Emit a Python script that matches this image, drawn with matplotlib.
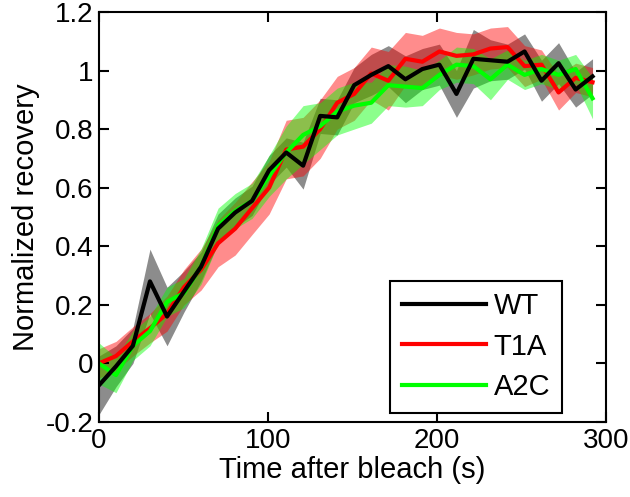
import matplotlib
matplotlib.use("Agg")
import matplotlib.pyplot as plt

plt.rcParams['font.family'] = ['Liberation Sans', 'DejaVu Sans']

# time after bleach (s)
times = [0, 10.1, 20.1, 30.2, 40.3, 50.3, 60.4, 70.5, 80.6, 90.6,
         100.7, 110.8, 120.8, 130.9, 141.0, 151.0, 161.1, 171.2, 181.3, 191.3,
         201.4, 211.5, 221.5, 231.6, 241.7, 251.8, 261.8, 271.9, 282.0, 292.0]

wt_mean = [-0.075, -0.01, 0.06, 0.28, 0.16, 0.245, 0.33, 0.46, 0.515, 0.555,
           0.66, 0.72, 0.675, 0.845, 0.84, 0.95, 0.985, 1.015, 0.97, 1.005,
           1.02, 0.92, 1.04, 1.035, 1.03, 1.065, 0.965, 1.025, 0.935, 0.98]
wt_err = [0.10, 0.07, 0.06, 0.11, 0.10, 0.07, 0.05, 0.05, 0.05, 0.05,
          0.05, 0.05, 0.08, 0.06, 0.06, 0.06, 0.07, 0.07, 0.08, 0.07,
          0.07, 0.08, 0.10, 0.07, 0.06, 0.06, 0.07, 0.07, 0.06, 0.06]

t1a_mean = [0.0, 0.025, 0.075, 0.12, 0.17, 0.26, 0.32, 0.41, 0.46, 0.53,
            0.60, 0.73, 0.74, 0.80, 0.89, 0.92, 0.99, 0.965, 1.04, 1.03,
            1.065, 1.05, 1.055, 1.075, 1.08, 1.015, 1.02, 0.925, 0.975, 0.96]
t1a_err = [0.05, 0.05, 0.05, 0.05, 0.06, 0.06, 0.07, 0.08, 0.09, 0.09,
           0.09, 0.10, 0.10, 0.10, 0.09, 0.09, 0.09, 0.10, 0.09, 0.09,
           0.08, 0.08, 0.07, 0.07, 0.07, 0.07, 0.05, 0.06, 0.05, 0.05]

a2c_mean = [0.0, -0.04, 0.06, 0.11, 0.21, 0.24, 0.33, 0.47, 0.52, 0.555,
            0.64, 0.72, 0.78, 0.81, 0.86, 0.88, 0.89, 0.95, 0.945, 0.94,
            0.985, 1.02, 1.015, 0.97, 1.02, 0.985, 1.005, 0.985, 1.005, 0.905]
a2c_err = [0.07, 0.06, 0.05, 0.05, 0.05, 0.05, 0.06, 0.06, 0.06, 0.06,
           0.07, 0.09, 0.10, 0.08, 0.08, 0.08, 0.07, 0.07, 0.07, 0.06,
           0.05, 0.06, 0.06, 0.07, 0.05, 0.05, 0.05, 0.05, 0.05, 0.07]

series = [("WT", wt_mean, wt_err, "#000000"),
          ("T1A", t1a_mean, t1a_err, "#ff0000"),
          ("A2C", a2c_mean, a2c_err, "#00ff00")]

fig = plt.figure(figsize=(6.3, 4.97), dpi=100)
ax = fig.add_axes([0.157, 0.151, 0.805, 0.825])

# shaded bands first
for name, m, e, c in series:
    lo = [a - b for a, b in zip(m, e)]
    hi = [a + b for a, b in zip(m, e)]
    ax.fill_between(times, lo, hi, color=c, alpha=0.45, linewidth=0)

handles = {}
for name, m, e, c in [series[1], series[2], series[0]]:
    handles[name], = ax.plot(times, m, color=c, lw=3, label=name)

ax.set_xlim(0, 300)
ax.set_ylim(-0.2, 1.2)
ax.set_xticks([0, 100, 200, 300])
ax.set_yticks([-0.2, 0, 0.2, 0.4, 0.6, 0.8, 1.0, 1.2])
ax.set_yticklabels(["-0.2", "0", "0.2", "0.4", "0.6", "0.8", "1", "1.2"])
ax.tick_params(direction='in', length=7, width=1.5, top=True, right=True,
               labelsize=20, pad=4)
for s in ax.spines.values():
    s.set_linewidth(1.5)

ax.set_xlabel("Time after bleach (s)", fontsize=21, labelpad=2)
ax.set_ylabel("Normalized recovery", fontsize=21, labelpad=4)

leg = ax.legend([handles["WT"], handles["T1A"], handles["A2C"]],
                ["WT", "T1A", "A2C"], loc='lower right',
                bbox_to_anchor=(0.913, 0.023), borderaxespad=0, fontsize=21,
                frameon=True, fancybox=False, edgecolor='black', framealpha=1,
                handlelength=2.9, labelspacing=0.42, borderpad=0.4,
                handletextpad=0.25)
leg.get_frame().set_linewidth(1.5)

fig.savefig("out.png", dpi=100)
